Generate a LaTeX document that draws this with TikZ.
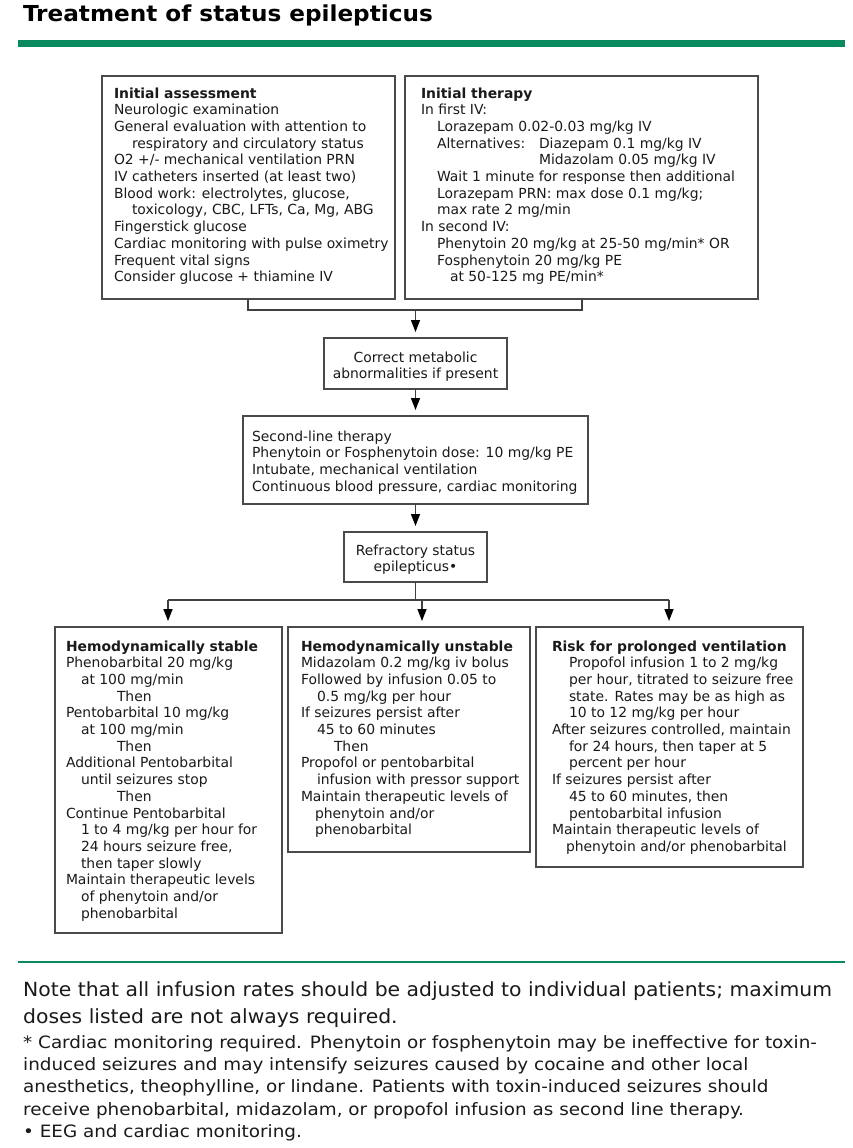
\documentclass[tikz,border=0pt]{standalone}
\usepackage{fontspec}
\setmainfont{DejaVu Sans}
\newfontfamily\condfont{DejaVu Sans Condensed}
\usetikzlibrary{arrows.meta}
\definecolor{textc}{HTML}{1A1A1A}
\definecolor{boxgray}{HTML}{4A4A4A}
\definecolor{linegray}{HTML}{404040}
\definecolor{barcol}{HTML}{088A5E}
\newcommand\boxfont{\fontsize{13.9}{16.7}\selectfont}
\newcommand\ind[1]{\hspace*{#1}}
\newcommand\blines[2]{\begin{minipage}[t]{#1}\raggedright\setlength{\parindent}{0pt}#2\end{minipage}}
\newcommand\clines[2]{\begin{minipage}[t]{#1}\centering#2\end{minipage}}
\begin{document}
\begin{tikzpicture}[x=1pt,y=-1pt,
  box/.style={draw=boxgray, line width=1.4pt, inner sep=0pt, outer sep=0pt, anchor=north west},
  txt/.style={inner sep=0pt, outer sep=0pt, anchor=base west, text=textc, font=\boxfont},
  ctxt/.style={inner sep=0pt, outer sep=0pt, anchor=base, text=textc, font=\boxfont},
  conn/.style={draw=linegray, line width=1.4pt},
  arr/.style={draw=linegray, line width=1.4pt, -{Triangle[width=9pt,length=12pt,color=black]}, shorten >=6pt},
]
\useasboundingbox[fill=white] (0,0) rectangle (853,1148);

% title
\node[inner sep=0pt, anchor=base west, text=black, font=\condfont\bfseries\fontsize{22}{26}\selectfont] (title) at (23,22) {\scalebox{1.17}[1]{Treatment of status epilepticus}};
\fill[barcol] (18,40) rectangle (845,47);

% boxes
\node[box, minimum width=293pt, minimum height=223pt] (b1) at (102,76) {};
\node[box, minimum width=353pt, minimum height=223pt] (b2) at (405,76) {};
\node[box, minimum width=183pt, minimum height=51pt] (b3) at (324,338) {};
\node[box, minimum width=345pt, minimum height=88pt] (b4) at (243,416) {};
\node[box, minimum width=143pt, minimum height=50pt] (b5) at (344,532) {};
\node[box, minimum width=227pt, minimum height=306pt] (b6) at (55,627) {};
\node[box, minimum width=242pt, minimum height=225pt] (b7) at (288,627) {};
\node[box, minimum width=267pt, minimum height=240pt] (b8) at (536,627) {};

% texts
\node[txt] (t1) at (114,98) {\blines{280pt}{%
\textbf{Initial assessment}\\
Neurologic examination\\
General evaluation with attention to\\
\ind{18pt}respiratory and circulatory status\\
O2 +/- mechanical ventilation PRN\\
IV catheters inserted (at least two)\\
Blood work: electrolytes, glucose,\\
\ind{18pt}toxicology, CBC, LFTs, Ca, Mg, ABG\\
Fingerstick glucose\\
Cardiac monitoring with pulse oximetry\\
Frequent vital signs\\
Consider glucose + thiamine IV}};

\node[txt] (t2) at (421,98) {\blines{340pt}{%
\textbf{Initial therapy}\\
In first IV:\\
\ind{16pt}Lorazepam 0.02-0.03 mg/kg IV\\
\ind{16pt}\makebox[102pt][l]{Alternatives:}Diazepam 0.1 mg/kg IV\\
\ind{118pt}Midazolam 0.05 mg/kg IV\\
\ind{16pt}Wait 1 minute for response then additional\\
\ind{16pt}Lorazepam PRN: max dose 0.1 mg/kg;\\
\ind{16pt}max rate 2 mg/min\\
In second IV:\\
\ind{16pt}Phenytoin 20 mg/kg at 25-50 mg/min* OR\\
\ind{16pt}Fosphenytoin 20 mg/kg PE\\
\ind{29pt}at 50-125 mg PE/min*}};

\node[ctxt] (t3) at (415.5,362) {\clines{180pt}{Correct metabolic\\abnormalities if present}};

\node[txt] (t4) at (252,441) {\blines{335pt}{%
Second-line therapy\\
Phenytoin or Fosphenytoin dose: 10 mg/kg PE\\
Intubate, mechanical ventilation\\
Continuous blood pressure, cardiac monitoring}};

\node[ctxt] (t5) at (415.5,555) {\clines{140pt}{Refractory status\\epilepticus•}};

\node[txt] (t6) at (66,651) {\blines{215pt}{%
\textbf{Hemodynamically stable}\\
Phenobarbital 20 mg/kg\\
\ind{15pt}at 100 mg/min\\
\ind{51pt}Then\\
Pentobarbital 10 mg/kg\\
\ind{15pt}at 100 mg/min\\
\ind{51pt}Then\\
Additional Pentobarbital\\
\ind{15pt}until seizures stop\\
\ind{51pt}Then\\
Continue Pentobarbital\\
\ind{15pt}1 to 4 mg/kg per hour for\\
\ind{15pt}24 hours seizure free,\\
\ind{15pt}then taper slowly\\
Maintain therapeutic levels\\
\ind{15pt}of phenytoin and/or\\
\ind{15pt}phenobarbital}};

\node[txt] (t7) at (301,651) {\blines{235pt}{%
\textbf{Hemodynamically unstable}\\
Midazolam 0.2 mg/kg iv bolus\\
Followed by infusion 0.05 to\\
\ind{16pt}0.5 mg/kg per hour\\
If seizures persist after\\
\ind{16pt}45 to 60 minutes\\
\ind{33pt}Then\\
Propofol or pentobarbital\\
\ind{16pt}infusion with pressor support\\
Maintain therapeutic levels of\\
\ind{14pt}phenytoin and/or\\
\ind{14pt}phenobarbital}};

\node[txt] (t8) at (552,651) {\blines{250pt}{%
\textbf{Risk for prolonged ventilation}\\
\ind{17pt}Propofol infusion 1 to 2 mg/kg\\
\ind{17pt}per hour, titrated to seizure free\\
\ind{17pt}state. Rates may be as high as\\
\ind{17pt}10 to 12 mg/kg per hour\\
After seizures controlled, maintain\\
\ind{17pt}for 24 hours, then taper at 5\\
\ind{17pt}percent per hour\\
If seizures persist after\\
\ind{17pt}45 to 60 minutes, then\\
\ind{17pt}pentobarbital infusion\\
Maintain therapeutic levels of\\
\ind{14pt}phenytoin and/or phenobarbital}};

% connectors
\coordinate (j1) at (248,310);
\coordinate (j2) at (582,310);
\coordinate (j0) at (415.5,310);
\draw[conn] (j1 |- b1.south) -- (j1) -- (j2) -- (j2 |- b2.south);
\draw[arr] (j0) -- (b3.north);
\draw[arr] (b3.south) -- (b4.north);
\draw[arr] (b4.south) -- (b5.north);
\coordinate (k0) at (415.5,600);
\coordinate (k1) at (168,600);
\coordinate (k2) at (422,600);
\coordinate (k3) at (669,600);
\draw[conn] (b5.south) -- (k0);
\draw[conn] (k1) -- (k3);
\draw[arr] (k1) -- (k1 |- b6.north);
\draw[arr] (k2) -- (k2 |- b7.north);
\draw[arr] (k3) -- (k3 |- b8.north);

% notes
\draw[barcol, line width=2.5pt] (18,962) -- (845,962);
\node[inner sep=0pt, anchor=base west, text=textc, font=\condfont\fontsize{19.5}{27}\selectfont] (note) at (23,996) {\scalebox{1.16}[1]{\blines{720pt}{%
Note that all infusion rates should be adjusted to individual patients; maximum\\
doses listed are not always required.}}};
\node[inner sep=0pt, anchor=base west, text=textc, font=\condfont\fontsize{17}{22.4}\selectfont] (foot) at (23,1048) {\scalebox{1.2}[1]{\blines{680pt}{%
* Cardiac monitoring required. Phenytoin or fosphenytoin may be ineffective for toxin-\\
induced seizures and may intensify seizures caused by cocaine and other local\\
anesthetics, theophylline, or lindane. Patients with toxin-induced seizures should\\
receive phenobarbital, midazolam, or propofol infusion as second line therapy.\\
• EEG and cardiac monitoring.}}};
\end{tikzpicture}
\end{document}
